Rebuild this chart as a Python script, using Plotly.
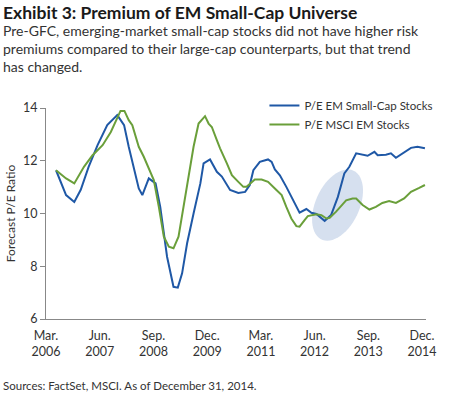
import plotly.graph_objects as go
import numpy as np

# months since March 2006
blue_x = [2.8, 5.6, 7.9, 9.7, 11.9, 14.4, 17.1, 19.9, 21.8, 23.1, 25.9, 26.9, 28.7, 30.6, 31.9,
          33.8, 35.6, 36.8, 38.0, 39.4, 41.2, 43.1, 44.0, 45.8, 47.7, 49.1, 51.4, 53.7, 55.6,
          56.9, 57.9, 59.7, 62.0, 63.0, 63.9, 65.3, 67.1, 69.4, 70.8, 72.7, 74.1, 75.5, 77.8,
          79.6, 81.5, 83.3, 84.7, 86.6, 88.0, 89.8, 91.7, 92.6, 94.9, 96.3, 97.7, 99.5, 101.9,
          103.7, 105.8]
blue_y = [11.64, 10.70, 10.44, 10.90, 11.77, 12.59, 13.35, 13.73, 13.35, 12.53, 10.95, 10.70, 11.33,
          11.14, 10.25, 8.36, 7.22, 7.19, 7.73, 8.87, 10.00, 11.14, 11.90, 12.05, 11.58, 11.40,
          10.89, 10.78, 10.82, 11.08, 11.64, 11.96, 12.05, 11.96, 11.67, 11.45, 11.01, 10.38,
          10.03, 10.17, 10.03, 9.98, 9.72, 9.94, 10.63, 11.52, 11.77, 12.28, 12.25, 12.19, 12.34,
          12.21, 12.23, 12.28, 12.11, 12.28, 12.49, 12.53, 12.47]

green_x = [2.8, 5.6, 7.9, 10.6, 13.0, 15.8, 18.1, 20.8, 21.9, 23.1, 24.1, 25.9, 27.3, 28.7, 30.1,
           31.5, 32.9, 34.3, 35.6, 37.0, 38.4, 39.8, 41.2, 42.6, 44.0, 44.4, 45.4, 46.3, 47.7,
           48.6, 50.5, 51.9, 53.7, 55.1, 56.0, 57.4, 58.3, 60.2, 62.0, 63.9, 65.8, 67.1, 68.5,
           69.9, 70.8, 72.2, 73.1, 75.5, 76.9, 78.3, 79.2, 81.0, 83.8, 85.6, 86.6, 88.4, 90.3,
           92.1, 93.9, 95.8, 97.7, 100.0, 101.9, 104.2, 105.8]
green_y = [11.64, 11.33, 11.14, 11.77, 12.21, 12.59, 13.09, 13.89, 13.89, 13.54, 13.35, 12.53, 12.15,
           11.71, 11.27, 10.25, 9.12, 8.74, 8.68, 9.12, 10.25, 11.39, 12.53, 13.41, 13.66, 13.69,
           13.41, 13.28, 12.78, 12.47, 11.90, 11.45, 11.20, 11.01, 11.01, 11.20, 11.29, 11.29,
           11.20, 10.95, 10.70, 10.25, 9.81, 9.52, 9.50, 9.75, 9.90, 9.97, 9.94, 9.81, 9.84,
           10.07, 10.50, 10.57, 10.57, 10.32, 10.15, 10.25, 10.40, 10.47, 10.40, 10.57, 10.82,
           10.97, 11.08]

tick_vals = [0, 15, 30, 45, 60, 75, 90, 105]
tick_text = ["Mar.<br>2006", "Jun.<br>2007", "Sep.<br>2008", "Dec.<br>2009",
             "Mar.<br>2011", "Jun.<br>2012", "Sep.<br>2013", "Dec.<br>2014"]

FONT = "Lato, Roboto, sans-serif"

L, R, T, B = 46, 22, 108, 79
PH = 398 - T - B
PW = 449 - L - R

def py(y_px):
    return (398 - B - y_px) / PH

fig = go.Figure()
fig.add_trace(go.Scatter(x=blue_x, y=blue_y, mode="lines", name="P/E EM Small-Cap Stocks",
                         line=dict(color="#1f58a6", width=2)))
fig.add_trace(go.Scatter(x=green_x, y=green_y, mode="lines", name="P/E MSCI EM Stocks",
                         line=dict(color="#6a9f3a", width=2)))

# highlight ellipse (tilted) around mid-2012 turn
cx, cy = 81.4, 10.32
a_px, b_px, ang = 38, 22, np.deg2rad(65)
t = np.linspace(0, 2 * np.pi, 60)
ex = a_px * np.cos(t) * np.cos(ang) - b_px * np.sin(t) * np.sin(ang)
ey = a_px * np.cos(t) * np.sin(ang) + b_px * np.sin(t) * np.cos(ang)
xs = cx + ex / 3.6
ys = cy + ey / 26.4
path = "M " + " L ".join(f"{x:.3f},{y:.3f}" for x, y in zip(xs, ys)) + " Z"
fig.add_shape(type="path", path=path, fillcolor="#d6e0ef", line=dict(width=0), layer="below")

fig.add_annotation(text="<b>Exhibit 3: Premium of EM Small-Cap Universe</b>", xref="paper", yref="paper",
                   x=-(L - 1) / PW, y=py(0), xanchor="left", yanchor="top", showarrow=False,
                   font=dict(family=FONT, size=17.5, color="#1a1a1a"))
fig.add_annotation(text="Pre-GFC, emerging-market small-cap stocks did not have higher risk<br>"
                        "premiums compared to their large-cap counterparts, but that trend<br>"
                        "has changed.",
                   xref="paper", yref="paper", x=-(L - 1) / PW, y=py(20), xanchor="left", yanchor="top",
                   align="left", showarrow=False,
                   font=dict(family=FONT, size=14, color="#333333"))
fig.add_annotation(text="Sources: FactSet, MSCI. As of December 31, 2014.", xref="paper", yref="paper",
                   x=-(L - 1) / PW, y=py(385), xanchor="left", yanchor="middle", showarrow=False,
                   font=dict(family=FONT, size=11.5, color="#333333"))

fig.update_layout(
    width=449, height=398,
    margin=dict(l=L, r=R, t=T, b=B),
    plot_bgcolor="white", paper_bgcolor="white",
    font=dict(family=FONT, size=12.5, color="#333333"),
    showlegend=True,
    legend=dict(x=1.03, y=py(91), xanchor="right", yanchor="top", bgcolor="rgba(0,0,0,0)",
                font=dict(size=11.5, color="#333333"), tracegroupgap=0, itemwidth=30),
    xaxis=dict(range=[0, 106.1], tickvals=tick_vals, ticktext=tick_text, showgrid=False,
               zeroline=False, showline=True, linecolor="#888888", linewidth=1, ticks="",
               automargin=False, ticklabelstandoff=5),
    yaxis=dict(range=[6, 14], dtick=2, showgrid=False, zeroline=False, showline=True,
               linecolor="#888888", linewidth=1, ticks="outside", ticklen=5, tickcolor="#888888",
               automargin=False, title=dict(text="Forecast P/E Ratio", standoff=4,
                                            font=dict(size=12))),
)
fig.write_html("out.html", config={"displayModeBar": False},
               post_script="document.body.style.margin='0';")
